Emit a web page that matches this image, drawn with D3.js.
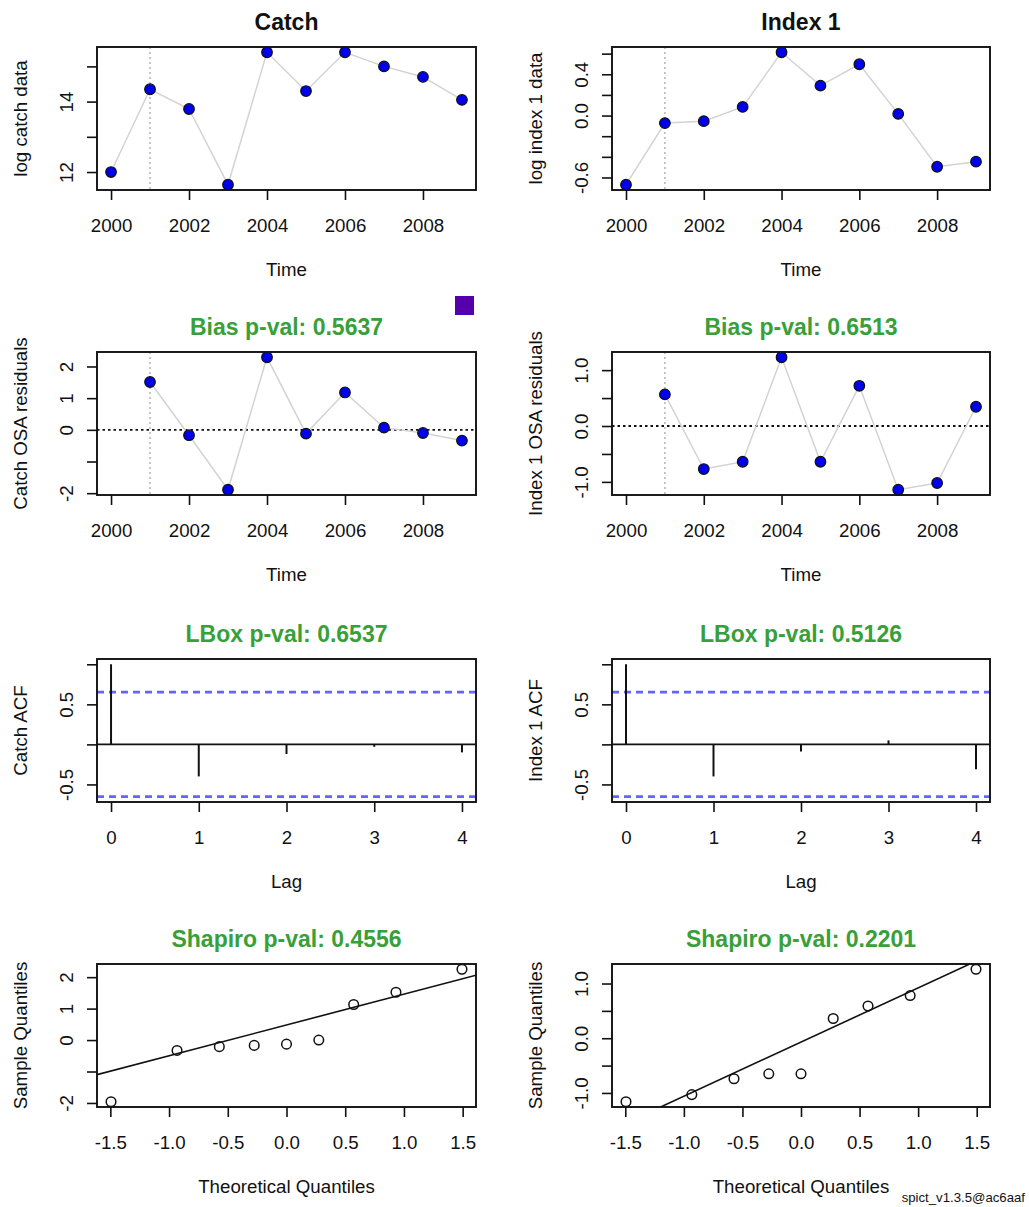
<!DOCTYPE html>
<html><head><meta charset="utf-8">
<script src="https://cdn.jsdelivr.net/npm/d3@7"></script>
<style>
body{margin:0;background:#fff}
svg{display:block}
text{font-family:"Liberation Sans",Arial,Helvetica,sans-serif;fill:#111}
</style>
</head><body>
<svg id="c" width="1029" height="1207"></svg>
<script>
// ---------------- data ----------------
const years = [2000,2001,2002,2003,2004,2005,2006,2007,2008,2009];
const logCatch = [12.00,14.35,13.79,11.64,15.40,14.30,15.40,15.00,14.70,14.05];
const logIndex = [-0.67,-0.073,-0.054,0.084,0.613,0.29,0.497,0.016,-0.496,-0.447];
const resYears = [2001,2002,2003,2004,2005,2006,2007,2008,2009];
const catchResid = [1.51,-0.17,-1.89,2.29,-0.12,1.18,0.07,-0.10,-0.34];
const indexResid = [0.566,-0.77,-0.64,1.23,-0.64,0.72,-1.14,-1.02,0.345];
const lags = [0,1,2,3,4];
const catchAcf = [1,-0.40,-0.12,-0.03,-0.10];
const indexAcf = [1,-0.40,-0.09,0.05,-0.31];
const acfLimit = 0.6533;
const theoQ = [-1.494,-0.932,-0.572,-0.275,0,0.275,0.572,0.932,1.494];
const catchSampleQ = [-1.96,-0.33,-0.21,-0.17,-0.13,0.0,1.13,1.52,2.25];
const indexSampleQ = [-1.16,-1.03,-0.74,-0.65,-0.65,0.36,0.59,0.78,1.26];
const catchQQLine = [0.48, 0.98];   // intercept, slope
const indexQQLine = [-0.07, 0.99];
const firstResYear = 2001;

const yearTicks = [2000,2002,2004,2006,2008];
const yearLabels = ["2000","2002","2004","2006","2008"];
const lagLabels = ["0","1","2","3","4"];
const qTicks = [-1.5,-1.0,-0.5,0,0.5,1.0,1.5];
const qLabels = ["-1.5","-1.0","-0.5","0.0","0.5","1.0","1.5"];
const catchTicks = [12,13,14,15], catchLabels = ["12","","14",""];
const indexTicks = [-0.6,-0.4,-0.2,0,0.2,0.4,0.6], indexLabels = ["-0.6","","","0.0","","0.4",""];
const cResTicks = [-2,-1,0,1,2], cResLabels = ["-2","","0","1","2"];
const iResTicks = [-1,-0.5,0,0.5,1], iResLabels = ["-1.0","","0.0","","1.0"];
const acfTicks = [-0.5,0,0.5,1], acfLabels = ["-0.5","","0.5",""];

const titles = ["Catch","Index 1","Bias p-val: 0.5637","Bias p-val: 0.6513",
  "LBox p-val: 0.6537","LBox p-val: 0.5126","Shapiro p-val: 0.4556","Shapiro p-val: 0.2201"];
const yTitles = ["log catch data","log index 1 data","Catch OSA residuals","Index 1 OSA residuals",
  "Catch ACF","Index 1 ACF","Sample Quantiles","Sample Quantiles"];
const xTitles = ["Time","Time","Time","Time","Lag","Lag","Theoretical Quantiles","Theoretical Quantiles"];
const footer = "spict_v1.3.5@ac6aaf";

// ---------------- layout ----------------
const svg = d3.select("#c");
const cols = [[97,476],[612,990]];
const rows = [47,352,659,964];
const boxH = 143;
const GREEN = "#38a038";
const FS = 18.7;

function ext(lo,hi){const d=(hi-lo)*0.04;return [lo-d,hi+d];}

let clipId = 0;
function panel(i, xdom, ydom, xt, xl, yt, yl){
  const c = cols[i%2], top = rows[Math.floor(i/2)];
  const x = d3.scaleLinear().domain(xdom).range(c);
  const y = d3.scaleLinear().domain(ydom).range([top+boxH, top]);
  const g = svg.append("g");
  const id = "clip"+(clipId++);
  g.append("clipPath").attr("id",id).append("rect")
    .attr("x",c[0]).attr("y",top).attr("width",c[1]-c[0]).attr("height",boxH);
  // x axis
  const ax = g.append("g").attr("transform",`translate(0,${top+boxH})`)
    .call(d3.axisBottom(x).tickValues(xt).tickFormat((d,k)=>xl[k]).tickSize(10).tickPadding(19));
  ax.select(".domain").remove();
  ax.selectAll("line").attr("stroke","#111").attr("stroke-width",1.6);
  ax.selectAll("text").attr("font-size",FS).attr("fill","#111");
  // y axis
  const ay = g.append("g").attr("transform",`translate(${c[0]},0)`)
    .call(d3.axisLeft(y).tickValues(yt).tickFormat((d,k)=>yl[k]).tickSize(10));
  ay.select(".domain").remove();
  ay.selectAll("line").attr("stroke","#111").attr("stroke-width",1.6);
  ay.selectAll("text").attr("font-size",FS).attr("fill","#111")
    .attr("x",0).attr("y",0).attr("dy","0.35em").attr("text-anchor","middle")
    .attr("transform","translate(-31,0) rotate(-90)");
  // titles
  g.append("text").attr("x",(c[0]+c[1])/2).attr("y",top-25).attr("dy","0.35em")
    .attr("text-anchor","middle").attr("font-size",23).attr("font-weight","bold")
    .style("fill", i<2 ? "#111" : GREEN).text(titles[i]);
  g.append("text").attr("x",(c[0]+c[1])/2).attr("y",top+boxH+79).attr("dy","0.35em")
    .attr("text-anchor","middle").attr("font-size",FS).text(xTitles[i]);
  g.append("text").attr("transform",`translate(${c[0]-77},${top+boxH/2}) rotate(-90)`)
    .attr("dy","0.35em").attr("text-anchor","middle").attr("font-size",FS).text(yTitles[i]);
  const marks = g.append("g");
  const clipped = g.append("g").attr("clip-path",`url(#${id})`);
  g.append("rect").attr("x",c[0]).attr("y",top).attr("width",c[1]-c[0]).attr("height",boxH)
    .attr("fill","none").attr("stroke","#111").attr("stroke-width",1.9);
  const over = g.append("g");
  return {x,y,marks,clipped,over,top};
}

function seriesPanel(i, xs, ys, yt, yl, zeroLine){
  const p = panel(i, ext(d3.min(years),d3.max(years)), ext(d3.min(ys),d3.max(ys)), yearTicks, yearLabels, yt, yl);
  p.marks.append("line").attr("x1",p.x(firstResYear)).attr("x2",p.x(firstResYear))
    .attr("y1",p.top).attr("y2",p.top+boxH).attr("stroke","#b5b5b5").attr("stroke-width",1.5)
    .attr("stroke-dasharray","2,3");
  if(zeroLine){
    p.marks.append("line").attr("x1",p.x.range()[0]).attr("x2",p.x.range()[1])
      .attr("y1",p.y(0)).attr("y2",p.y(0)).attr("stroke","#111").attr("stroke-width",1.8)
      .attr("stroke-dasharray","2.5,3");
  }
  const pts = xs.map((v,k)=>[v,ys[k]]);
  p.marks.append("path").attr("d",d3.line().x(d=>p.x(d[0])).y(d=>p.y(d[1]))(pts))
    .attr("fill","none").attr("stroke","#d3d3d3").attr("stroke-width",1.5);
  p.over.selectAll("circle").data(pts).join("circle")
    .attr("cx",d=>p.x(d[0])).attr("cy",d=>p.y(d[1])).attr("r",5.3)
    .attr("fill","#0000ee").attr("stroke","#111").attr("stroke-width",1.2);
  return p;
}

function acfPanel(i, vals){
  const p = panel(i, ext(0,4), ext(Math.min(-acfLimit,d3.min(vals)), Math.max(acfLimit,d3.max(vals))),
    lags, lagLabels, acfTicks, acfLabels);
  p.marks.append("line").attr("x1",p.x.range()[0]).attr("x2",p.x.range()[1])
    .attr("y1",p.y(0)).attr("y2",p.y(0)).attr("stroke","#111").attr("stroke-width",1.8);
  [acfLimit,-acfLimit].forEach(v=>{
    p.marks.append("line").attr("x1",p.x.range()[0]).attr("x2",p.x.range()[1])
      .attr("y1",p.y(v)).attr("y2",p.y(v)).attr("stroke","#6464ff").attr("stroke-width",2.8)
      .attr("stroke-dasharray","7,5");
  });
  p.marks.selectAll(".bar").data(lags).join("line")
    .attr("x1",d=>p.x(d)).attr("x2",d=>p.x(d)).attr("y1",p.y(0)).attr("y2",(d,k)=>p.y(vals[k]))
    .attr("stroke","#111").attr("stroke-width",2);
  return p;
}

function qqPanel(i, sample, line, yt, yl){
  const p = panel(i, ext(d3.min(theoQ),d3.max(theoQ)), ext(d3.min(sample),d3.max(sample)), qTicks, qLabels, yt, yl);
  const [a,b] = line, xd = p.x.domain();
  p.clipped.append("line").attr("x1",p.x(xd[0])).attr("x2",p.x(xd[1]))
    .attr("y1",p.y(a+b*xd[0])).attr("y2",p.y(a+b*xd[1])).attr("stroke","#111").attr("stroke-width",1.6);
  p.over.selectAll("circle").data(theoQ).join("circle")
    .attr("cx",d=>p.x(d)).attr("cy",(d,k)=>p.y(sample[k])).attr("r",4.8)
    .attr("fill","none").attr("stroke","#111").attr("stroke-width",1.5);
  return p;
}

seriesPanel(0, years, logCatch, catchTicks, catchLabels, false);
seriesPanel(1, years, logIndex, indexTicks, indexLabels, false);
seriesPanel(2, resYears, catchResid, cResTicks, cResLabels, true);
seriesPanel(3, resYears, indexResid, iResTicks, iResLabels, true);
acfPanel(4, catchAcf);
acfPanel(5, indexAcf);
qqPanel(6, catchSampleQ, catchQQLine, cResTicks, cResLabels);
qqPanel(7, indexSampleQ, indexQQLine, iResTicks, iResLabels);

// purple marker square (top-right of catch residual panel)
svg.append("rect").attr("x",cols[0][1]-21).attr("y",rows[1]-56).attr("width",19).attr("height",19)
  .attr("fill","#5500aa");

svg.append("text").attr("x",1025).attr("y",1197).attr("dy","0.35em").attr("text-anchor","end")
  .attr("font-size",13.2).text(footer);
</script>
</body></html>
